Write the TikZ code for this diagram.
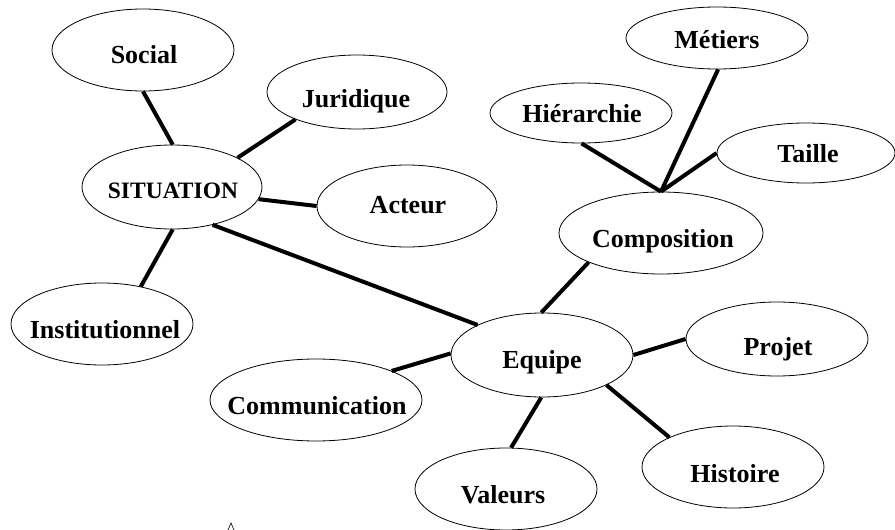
\documentclass[tikz,border=0pt]{standalone}
\usepackage{fontspec}
\setmainfont{Liberation Serif}
\usetikzlibrary{shapes.geometric}
\tikzset{
  oval/.style={ellipse, draw, line width=0.8pt, inner sep=0pt},
  lbl/.style={anchor=base, inner sep=0pt, font=\fontsize{26}{30}\selectfont\bfseries},
  lblsmall/.style={anchor=base, inner sep=0pt, font=\fontsize{23.5}{28}\selectfont\bfseries},
  link/.style={line width=4pt},
}
\begin{document}
\begin{tikzpicture}[x=1pt, y=-1pt]
\useasboundingbox (0,0) rectangle (895,530);
% ellipses
\node[oval, minimum width=182, minimum height=82] (soc) at (143,50) {};
\node[oval, minimum width=180, minimum height=74] (jur) at (357,92) {};
\node[oval, minimum width=180, minimum height=84] (sit) at (172,187) {};
\node[oval, minimum width=180, minimum height=82] (act) at (407,206) {};
\node[oval, minimum width=182, minimum height=82] (ins) at (102,324) {};
\node[oval, minimum width=212, minimum height=82] (com) at (316,400) {};
\node[oval, minimum width=182, minimum height=84] (equ) at (542,355) {};
\node[oval, minimum width=182, minimum height=74] (pro) at (777,339) {};
\node[oval, minimum width=182, minimum height=82] (his) at (733,467) {};
\node[oval, minimum width=182, minimum height=82] (val) at (506,489) {};
\node[oval, minimum width=204, minimum height=82] (cmp) at (661,233) {};
\node[oval, minimum width=182, minimum height=60] (hie) at (581,113) {};
\node[oval, minimum width=182, minimum height=62] (met) at (717,38) {};
\node[oval, minimum width=178, minimum height=60] (tai) at (806,153) {};
% labels
\node[lbl] (tsoc) at (144,63) {Social};
\node[lbl] (tjur) at (356,107) {Juridique};
\node[lblsmall] (tsit) at (173,198) {SITUATION};
\node[lbl] (tact) at (408,213) {Acteur};
\node[lbl] (tins) at (105,338) {Institutionnel};
\node[lbl] (tcom) at (317,414) {Communication};
\node[lbl] (tequ) at (542,368) {Equipe};
\node[lbl] (tpro) at (778,355) {Projet};
\node[lbl] (this) at (735,482) {Histoire};
\node[lbl] (tval) at (503,503) {Valeurs};
\node[lbl] (tcmp) at (663,247) {Composition};
\node[lbl] (thie) at (582,122) {Hiérarchie};
\node[lbl] (tmet) at (717,48) {Métiers};
\node[lbl] (ttai) at (808,162) {Taille};
% connectors
\draw[link] (soc.-90) -- (sit.89);
\draw[link] (jur.-156) -- (sit.24);
\draw[link] (sit.-8) -- (act.180);
\draw[link] (sit.-89) -- (ins.44);
\draw[link] (sit.-43.5) -- (equ.155);
\draw[link] (equ.91) -- (cmp.-158);
\draw[link] (equ.0.6) -- (pro.180);
\draw[link] (equ.-25.5) -- (his.155.6);
\draw[link] (equ.-91) -- (val.83);
\draw[link] (equ.179.4) -- (com.21.5);
\draw[link] (hie.-89) -- (cmp.90);
\draw[link] (met.-88) -- (cmp.90);
\draw[link] (tai.180) -- (cmp.90);
% stray caret at bottom
\draw[line width=0.6pt] (228,530) -- (231,523) -- (234,530);
\end{tikzpicture}
\end{document}
